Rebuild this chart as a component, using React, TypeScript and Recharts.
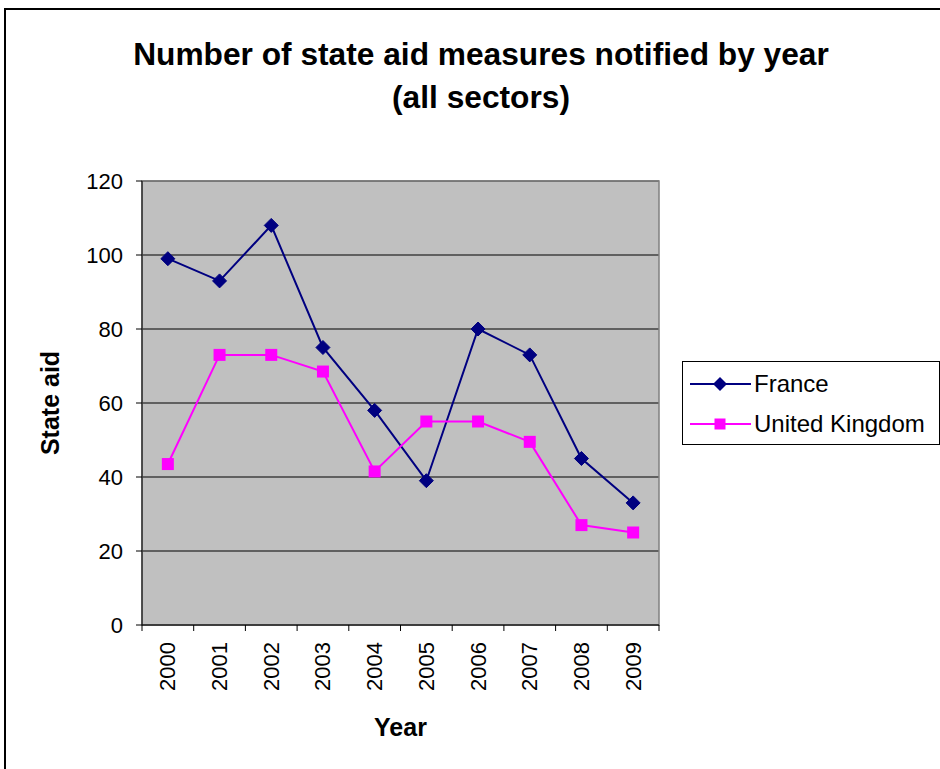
import React from "react";
import {
  LineChart,
  Line,
  XAxis,
  YAxis,
  CartesianGrid,
  ReferenceArea,
} from "recharts";

const years = ["2000", "2001", "2002", "2003", "2004", "2005", "2006", "2007", "2008", "2009"];
const france = [99, 93, 108, 75, 58, 39, 80, 73, 45, 33];
const unitedKingdom = [43.5, 73, 73, 68.5, 41.5, 55, 55, 49.5, 27, 25];
const yTicks = [0, 20, 40, 60, 80, 100, 120];

const FONT = "'Liberation Sans', Arial, sans-serif";
const PLOT_WIDTH = 517;
const HALF_STEP = PLOT_WIDTH / years.length / 2;

const chartData = years.map((year, i) => ({
  x: i,
  year,
  France: france[i],
  "United Kingdom": unitedKingdom[i],
}));

const boundaryTicks = years.map((_, i) => i - 0.5).concat([years.length - 0.5]);

const YearTick = ({ x, y, payload }: any) => {
  const idx = Math.round(payload.value + 0.5);
  const label = years[idx];
  if (!label) return null;
  const cx = x + HALF_STEP;
  return (
    <text
      transform={`translate(${cx},${y + 9}) rotate(-90)`}
      textAnchor="end"
      dominantBaseline="central"
      fontSize={22}
      fontFamily={FONT}
      fill="#000"
    >
      {label}
    </text>
  );
};

const Diamond = ({ cx, cy }: any) => {
  if (cx == null || cy == null) return null;
  const r = 7;
  return (
    <path
      d={`M${cx},${cy - r}L${cx + r},${cy}L${cx},${cy + r}L${cx - r},${cy}Z`}
      fill="#000080"
      stroke="#000080"
    />
  );
};

const Square = ({ cx, cy }: any) => {
  if (cx == null || cy == null) return null;
  const s = 6;
  return <rect x={cx - s} y={cy - s} width={s * 2} height={s * 2} fill="#ff00ff" />;
};

const legendItems = [
  { name: "France", color: "#000080", marker: "diamond" },
  { name: "United Kingdom", color: "#ff00ff", marker: "square" },
];

const LegendBox = () => (
  <div
    style={{
      position: "absolute",
      left: 682,
      top: 361,
      border: "1px solid #000",
      background: "#fff",
      width: 258,
      height: 84,
      boxSizing: "border-box",
      fontFamily: FONT,
      fontSize: 24,
      padding: "2px 0 0 7px",
    }}
  >
    {legendItems.map((item) => (
      <div key={item.name} style={{ display: "flex", alignItems: "center", height: 40 }}>
        <svg width={61} height={20} style={{ marginRight: 3 }}>
          <line x1={0} y1={10} x2={61} y2={10} stroke={item.color} strokeWidth={2} />
          {item.marker === "diamond" ? (
            <path d="M30,3L37,10L30,17L23,10Z" fill={item.color} />
          ) : (
            <rect x={24.5} y={4.5} width={11} height={11} fill={item.color} />
          )}
        </svg>
        <span style={{ color: "#000" }}>{item.name}</span>
      </div>
    ))}
  </div>
);

export default function App() {
  return (
    <div
      style={{
        position: "fixed",
        left: 0,
        top: 0,
        width: 940,
        height: 769,
        overflow: "hidden",
        background: "#fff",
      }}
    >
      <div
        style={{
          position: "absolute",
          left: 4,
          top: 8,
          width: 1000,
          height: 900,
          border: "2px solid #000",
        }}
      />
      <div
        style={{
          position: "absolute",
          left: 0,
          top: 33,
          width: 962,
          textAlign: "center",
          fontFamily: FONT,
          fontWeight: "bold",
          fontSize: 31.7,
          lineHeight: "43px",
          color: "#000",
        }}
      >
        Number of state aid measures notified by year
        <br />
        (all sectors)
      </div>
      <div style={{ position: "absolute", left: 0, top: 0 }}>
        <LineChart
          width={940}
          height={769}
          data={chartData}
          margin={{ top: 181, right: 281, bottom: 64, left: 82 }}
        >
          <CartesianGrid
            vertical={false}
            fill="#c0c0c0"
            stroke="#000"
            strokeWidth={1}
            horizontalValues={yTicks}
          />
          <ReferenceArea
            x1={-0.5}
            x2={9.5}
            y1={0}
            y2={120}
            fill="none"
            stroke="#808080"
            strokeWidth={1.5}
            ifOverflow="visible"
          />
          <XAxis
            dataKey="x"
            type="number"
            domain={[-0.5, 9.5]}
            ticks={boundaryTicks}
            interval={0}
            height={80}
            stroke="#000"
            tickSize={6}
            tick={<YearTick />}
            label={{
              value: "Year",
              position: "insideBottom",
              offset: 0,
              dy: 31,
              style: { fontFamily: FONT, fontWeight: "bold", fontSize: 25, fill: "#000" },
            }}
          />
          <YAxis
            domain={[0, 120]}
            ticks={yTicks}
            width={60}
            stroke="#000"
            tickSize={6}
            tickMargin={13}
            tick={{ fontFamily: FONT, fontSize: 22, fill: "#000" }}
            label={{
              value: "State aid",
              angle: -90,
              position: "insideLeft",
              dx: -37,
              style: {
                fontFamily: FONT,
                fontWeight: "bold",
                fontSize: 25,
                fill: "#000",
                textAnchor: "middle",
              },
            }}
          />
          <Line
            type="linear"
            dataKey="France"
            stroke="#000080"
            strokeWidth={2}
            dot={<Diamond />}
            activeDot={false}
            isAnimationActive={false}
          />
          <Line
            type="linear"
            dataKey="United Kingdom"
            stroke="#ff00ff"
            strokeWidth={2}
            dot={<Square />}
            activeDot={false}
            isAnimationActive={false}
          />
        </LineChart>
      </div>
      <LegendBox />
    </div>
  );
}
